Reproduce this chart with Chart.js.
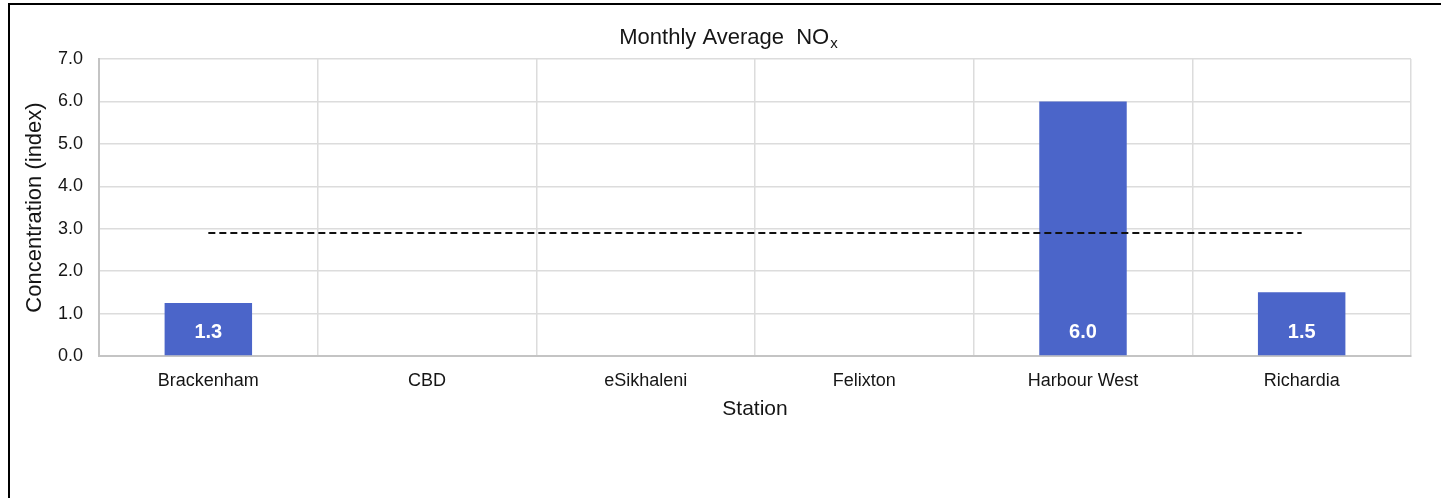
<!DOCTYPE html>
<html>
<head>
    <title>Monthly Average NOx</title>
    <script src="https://cdn.jsdelivr.net/npm/chart.js"></script>
    <style>
        body { margin: 0; background: #fff; }
        #wrap { width: 1441px; height: 498px; }
    </style>
</head>
<body>
    <div id="wrap"><canvas id="noxChart" width="1441" height="498"></canvas></div>

    <script>
        const stations = ['Brackenham', 'CBD', 'eSikhaleni', 'Felixton', 'Harbour West', 'Richardia'];
        const noxAverage = [1.25, null, null, null, 6.0, 1.5];
        const guideline = [2.9, 2.9, 2.9, 2.9, 2.9, 2.9];
        const yMin = 0;
        const yMax = 7;
        const yStep = 1;

        const FONT = '"Liberation Sans", Arial, sans-serif';
        const TEXT = '#151515';

        // white page with the black frame on the left and top
        const framePlugin = {
            id: 'frame',
            beforeDraw(chart) {
                const ctx = chart.ctx;
                ctx.save();
                ctx.fillStyle = '#fff';
                ctx.fillRect(0, 0, chart.width, chart.height);
                ctx.strokeStyle = '#000';
                ctx.lineWidth = 2;
                ctx.beginPath();
                ctx.moveTo(9, chart.height);
                ctx.lineTo(9, 4);
                ctx.lineTo(chart.width, 4);
                ctx.stroke();
                ctx.restore();
            }
        };

        // title with a subscript x
        const titlePlugin = {
            id: 'subTitle',
            afterDraw(chart) {
                const ctx = chart.ctx;
                const main = 'Monthly Average  NO';
                const sub = 'x';
                ctx.save();
                ctx.fillStyle = TEXT;
                ctx.textBaseline = 'middle';
                ctx.font = '22px ' + FONT;
                const w1 = ctx.measureText(main).width;
                ctx.font = '15px ' + FONT;
                const w2 = ctx.measureText(sub).width;
                const x0 = 728 - (w1 + w2) / 2;
                ctx.font = '22px ' + FONT;
                ctx.textAlign = 'left';
                ctx.fillText(main, x0, 38);
                ctx.font = '15px ' + FONT;
                ctx.fillText(sub, x0 + w1 + 1, 44);
                ctx.restore();
            }
        };

        // value labels inside the foot of each bar
        const barLabels = {
            id: 'barLabels',
            afterDatasetsDraw(chart) {
                const ctx = chart.ctx;
                const meta = chart.getDatasetMeta(1);
                const data = chart.data.datasets[1].data;
                ctx.save();
                ctx.fillStyle = '#fff';
                ctx.font = 'bold 20px ' + FONT;
                ctx.textAlign = 'center';
                ctx.textBaseline = 'middle';
                meta.data.forEach((bar, i) => {
                    if (data[i] == null) return;
                    ctx.fillText(data[i].toFixed(1), bar.x, bar.base - 23);
                });
                ctx.restore();
            }
        };

        new Chart(document.getElementById('noxChart'), {
            data: {
                labels: stations,
                datasets: [{
                    type: 'line',
                    label: 'Guideline',
                    data: guideline,
                    borderColor: '#111',
                    borderWidth: 2,
                    borderDash: [7, 4],
                    pointRadius: 0,
                    fill: false,
                    order: 1
                }, {
                    type: 'bar',
                    label: 'NOx',
                    data: noxAverage,
                    backgroundColor: '#4b65c9',
                    categoryPercentage: 1,
                    barPercentage: 0.4,
                    order: 2
                }]
            },
            options: {
                responsive: false,
                animation: false,
                layout: { padding: { left: 18, right: 30, top: 59, bottom: 72 } },
                plugins: {
                    legend: { display: false },
                    tooltip: { enabled: false }
                },
                scales: {
                    x: {
                        grid: { color: '#dcdcdc', lineWidth: 1.5, drawTicks: false, offset: true },
                        border: { color: '#c4c4c4', width: 2 },
                        ticks: { color: TEXT, font: { family: FONT, size: 18 }, padding: 14, maxRotation: 0 },
                        title: { display: true, text: 'Station', color: TEXT, font: { family: FONT, size: 21 } },
                        afterFit(scale) { scale.height = 70; }
                    },
                    y: {
                        min: yMin,
                        max: yMax,
                        grid: { color: '#dcdcdc', lineWidth: 1.5, drawTicks: false },
                        border: { color: '#c4c4c4', width: 2 },
                        ticks: {
                            stepSize: yStep,
                            color: TEXT,
                            font: { family: FONT, size: 18 },
                            padding: 16,
                            callback: v => v.toFixed(1)
                        },
                        title: { display: true, text: 'Concentration (index)', color: TEXT, font: { family: FONT, size: 22 } },
                        afterFit(scale) { scale.width = 81; }
                    }
                }
            },
            plugins: [framePlugin, titlePlugin, barLabels]
        });
    </script>
</body>
</html>
